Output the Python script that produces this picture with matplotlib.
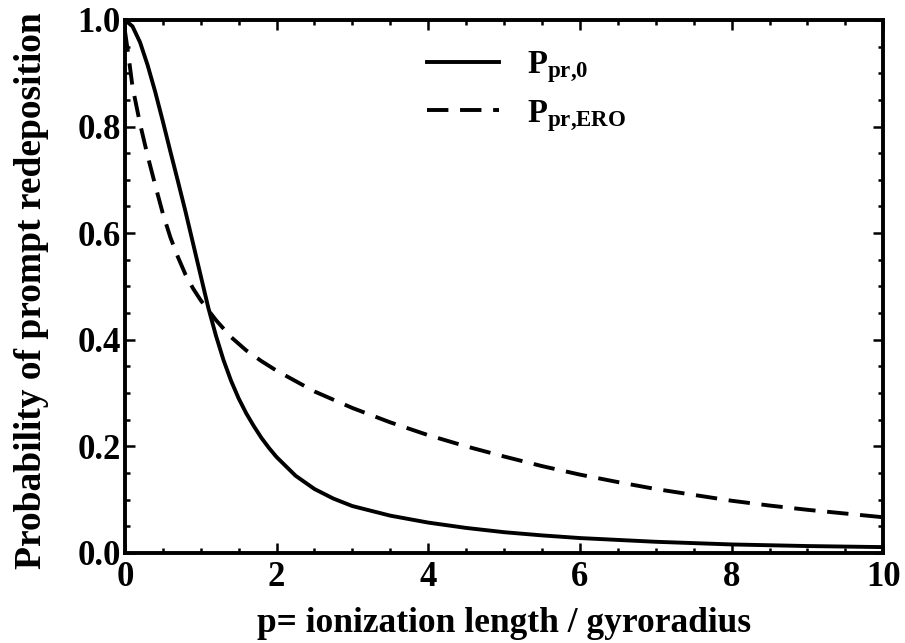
import matplotlib
matplotlib.use('Agg')
import matplotlib.pyplot as plt
from matplotlib.ticker import MultipleLocator

# probabilité de redéposition prompte en fonction de p
p_0 = [0.0, 0.1, 0.2, 0.3, 0.4, 0.5, 0.6, 0.7, 0.8, 0.9, 1.0, 1.1, 1.2, 1.3, 1.4,
       1.5, 1.6, 1.7, 1.8, 1.9, 2.0, 2.25, 2.5, 2.75, 3.0, 3.5, 4.0, 4.5, 5.0, 5.5,
       6.0, 7.0, 8.0, 9.0, 10.0]
P_pr0 = [1.0, 0.988, 0.958, 0.915, 0.865, 0.81, 0.753, 0.697, 0.64, 0.58, 0.52, 0.46,
         0.408, 0.362, 0.323, 0.29, 0.262, 0.238, 0.216, 0.197, 0.18, 0.145, 0.12,
         0.102, 0.088, 0.07, 0.057, 0.047, 0.039, 0.033, 0.028, 0.021, 0.016, 0.013,
         0.011]

p_ero = [0.0, 0.05, 0.1, 0.2, 0.3, 0.4, 0.5, 0.6, 0.7, 0.8, 0.9, 1.0, 1.2, 1.4, 1.6,
         1.8, 2.0, 2.5, 3.0, 3.5, 4.0, 4.5, 5.0, 5.5, 6.0, 6.5, 7.0, 7.5, 8.0, 8.5,
         9.0, 9.5, 10.0]
P_prERO = [0.98, 0.93, 0.875, 0.805, 0.745, 0.69, 0.637, 0.592, 0.555, 0.522, 0.496,
           0.474, 0.437, 0.405, 0.38, 0.36, 0.342, 0.303, 0.272, 0.245, 0.221, 0.2,
           0.181, 0.163, 0.147, 0.133, 0.12, 0.109, 0.098, 0.089, 0.081, 0.074, 0.067]

yticks = [0.0, 0.2, 0.4, 0.6, 0.8, 1.0]
ylabels = ['0.0', '0.2', '0.4', '0.6', '0.8', '1.0']

plt.rcParams['font.family'] = 'Liberation Serif'
plt.rcParams['font.weight'] = 'bold'
plt.rcParams['mathtext.fontset'] = 'custom'
plt.rcParams['mathtext.rm'] = 'Liberation Serif:bold'
plt.rcParams['mathtext.bf'] = 'Liberation Serif:bold'
plt.rcParams['mathtext.it'] = 'Liberation Serif:bold'

fig = plt.figure(figsize=(9.05, 6.43), dpi=100)
ax = fig.add_axes([0.138, 0.140, 0.838, 0.829])

ax.plot(p_0, P_pr0, color='black', lw=2.8, label=r'$\mathrm{P}_{\mathrm{pr{,}0}}$')
ax.plot(p_ero, P_prERO, color='black', lw=2.8, dashes=(5.5, 3),
        label=r'$\mathrm{P}_{\mathrm{pr{,}ERO}}$')

ax.set_xlim(0, 10)
ax.set_ylim(0, 1.0)
ax.xaxis.set_major_locator(MultipleLocator(2))
ax.xaxis.set_minor_locator(MultipleLocator(0.5))
ax.yaxis.set_minor_locator(MultipleLocator(0.05))
ax.set_yticks(yticks)
ax.set_yticklabels(ylabels)

ax.tick_params(which='both', direction='in', top=True, right=True, width=1.8,
               labelsize=25)
ax.tick_params(axis='x', pad=6)
ax.tick_params(axis='y', pad=3)
ax.tick_params(which='major', length=7)
ax.tick_params(which='minor', length=3.5)
for s in ax.spines.values():
    s.set_linewidth(2.8)

ax.set_xlabel('p= ionization length / gyroradius', fontsize=25.5, fontweight='bold',
              labelpad=9)
ax.set_ylabel('Probability of prompt redeposition', fontsize=27, fontweight='bold')
ax.yaxis.set_label_coords(-0.100, 0.493)

ax.legend(loc='upper left', bbox_to_anchor=(0.36, 1.0), frameon=False, fontsize=23.5,
          handlelength=2.2, handletextpad=0.86, labelspacing=0.38)

fig.savefig('out.png', dpi=100)
